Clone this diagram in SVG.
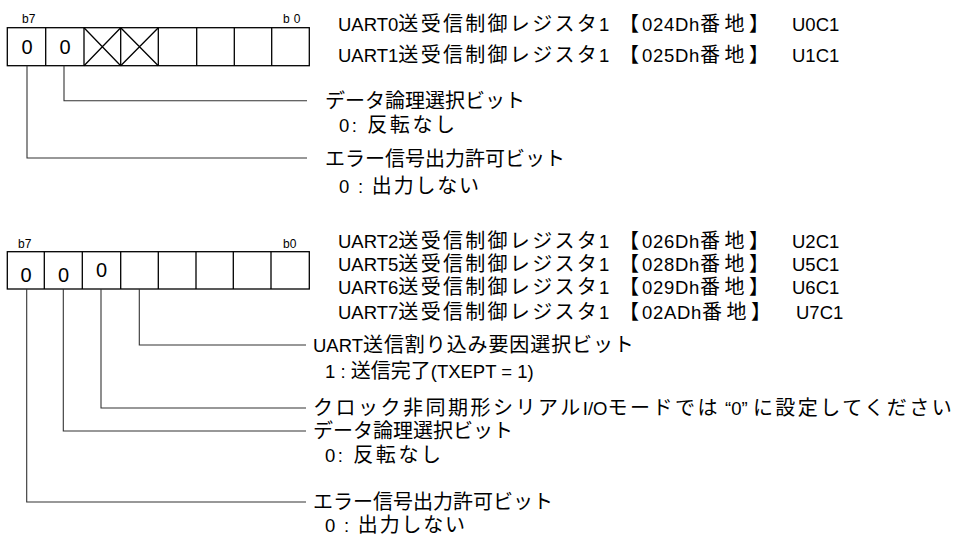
<svg xmlns="http://www.w3.org/2000/svg" width="965" height="537" viewBox="0 0 965 537">
<style>
.t{font-family:"Liberation Sans","Noto Sans CJK JP",sans-serif;font-size:18.5px;fill:#000}
.c{font-size:20px}
.h{letter-spacing:2.3px}
.k1{font-size:20px;letter-spacing:3px}
.k2{letter-spacing:0.7px}
.k3{font-size:20px;letter-spacing:4.5px}
.d{font-family:"Liberation Sans",Arial,sans-serif;font-size:20px;fill:#000;text-anchor:middle}
.b{font-family:"Liberation Sans",Arial,sans-serif;font-size:12px;fill:#000}
.box{fill:#fff;stroke:#000;stroke-width:1.3}
.cell{stroke:#000;stroke-width:1.3;fill:none}
.ld{fill:none;stroke:#333;stroke-width:1.1}
</style>
<rect width="965" height="537" fill="#fff"/>
<g id="reg1">
<text class="b" x="22" y="23">b7</text>
<text class="b" x="283" y="23" letter-spacing="4">b0</text>
<rect class="box" x="7.3" y="27.7" width="302" height="38"/>
<path class="cell" d="M45.7 27.7V65.7M84 27.7V65.7M120.7 27.7V65.7M158.3 27.7V65.7M196.7 27.7V65.7M234.3 27.7V65.7M271.7 27.7V65.7"/>
<path class="cell" d="M84 27.7L120.7 65.7M120.7 27.7L84 65.7M120.7 27.7L158.3 65.7M158.3 27.7L120.7 65.7"/>
<text class="d" x="27" y="54">0</text>
<text class="d" x="65" y="54">0</text>
</g>
<g id="reg1-names">
<text class="t" x="338" y="31">UART0<tspan class="c h">送受信制御レジスタ</tspan>1</text>
<text class="t" x="619" y="31"><tspan class="k1">【</tspan><tspan class="k2">024Dh</tspan><tspan class="k3">番地</tspan><tspan class="c">】</tspan></text>
<text class="t" x="792" y="31">U0C1</text>
<text class="t" x="338" y="61.5">UART1<tspan class="c h">送受信制御レジスタ</tspan>1</text>
<text class="t" x="619" y="61.5"><tspan class="k1">【</tspan><tspan class="k2">025Dh</tspan><tspan class="k3">番地</tspan><tspan class="c">】</tspan></text>
<text class="t" x="792" y="61.5">U1C1</text>
</g>
<g id="reg1-b6">
<text class="t c" x="325" y="108">データ論理選択ビット</text>
<text class="t" x="339" y="132" textLength="116" lengthAdjust="spacing">0: <tspan class="c">反転なし</tspan></text>
</g>
<g id="reg1-b7">
<text class="t c" x="325" y="166">エラー信号出力許可ビット</text>
<text class="t" x="339" y="193" textLength="140" lengthAdjust="spacing">0 : <tspan class="c">出力しない</tspan></text>
</g>
<g id="reg2">
<text class="b" x="18" y="248">b7</text>
<text class="b" x="283" y="248">b0</text>
<rect class="box" x="7.3" y="251.7" width="302" height="37.3"/>
<path class="cell" d="M44.3 251.7V289M82.3 251.7V289M120.7 251.7V289M158.3 251.7V289M196 251.7V289M233.3 251.7V289M271 251.7V289"/>
<text class="d" x="26" y="281.5">0</text>
<text class="d" x="63.5" y="281.5">0</text>
<text class="d" x="101.5" y="277">0</text>
</g>
<g id="reg2-names">
<text class="t" x="338" y="248">UART2<tspan class="c h">送受信制御レジスタ</tspan>1</text>
<text class="t" x="619" y="248"><tspan class="k1">【</tspan><tspan class="k2">026Dh</tspan><tspan class="k3">番地</tspan><tspan class="c">】</tspan></text>
<text class="t" x="792" y="248">U2C1</text>
<text class="t" x="338" y="271">UART5<tspan class="c h">送受信制御レジスタ</tspan>1</text>
<text class="t" x="619" y="271"><tspan class="k1">【</tspan><tspan class="k2">028Dh</tspan><tspan class="k3">番地</tspan><tspan class="c">】</tspan></text>
<text class="t" x="792" y="271">U5C1</text>
<text class="t" x="338" y="294">UART6<tspan class="c h">送受信制御レジスタ</tspan>1</text>
<text class="t" x="619" y="294"><tspan class="k1">【</tspan><tspan class="k2">029Dh</tspan><tspan class="k3">番地</tspan><tspan class="c">】</tspan></text>
<text class="t" x="792" y="294">U6C1</text>
<text class="t" x="338" y="319">UART7<tspan class="c h">送受信制御レジスタ</tspan>1</text>
<text class="t" x="619" y="319"><tspan class="k1">【</tspan><tspan class="k2">02ADh</tspan><tspan class="k3">番地</tspan><tspan class="c">】</tspan></text>
<text class="t" x="796" y="319">U7C1</text>
</g>
<g id="reg2-b4">
<text class="t" x="313" y="352">UART<tspan class="c" letter-spacing="0.9">送信割り込み要因選択ビット</tspan></text>
<text class="t" x="325" y="378">1 : <tspan class="c">送信完了</tspan>(TXEPT = 1)</text>
</g>
<g id="reg2-b5">
<text class="t" x="313" y="415"><tspan class="c" letter-spacing="2.5">クロック非同期形シリアル</tspan>I/O<tspan class="c" letter-spacing="2.5">モードでは</tspan> “0” <tspan class="c" letter-spacing="2.5">に設定してください</tspan></text>
</g>
<g id="reg2-b6">
<text class="t c" x="313" y="438">データ論理選択ビット</text>
<text class="t" x="325" y="462" textLength="116" lengthAdjust="spacing">0: <tspan class="c">反転なし</tspan></text>
</g>
<g id="reg2-b7">
<text class="t c" x="313" y="509">エラー信号出力許可ビット</text>
<text class="t" x="325" y="532" textLength="140" lengthAdjust="spacing">0 : <tspan class="c">出力しない</tspan></text>
</g>
<g id="connectors">
<path class="ld" d="M64 65.7V100.7H307"/>
<path class="ld" d="M27 65.7V158H307"/>
<path class="ld" d="M139.3 289V345H306"/>
<path class="ld" d="M101 289V408H306"/>
<path class="ld" d="M63.3 289V431H306"/>
<path class="ld" d="M26.7 289V502H306"/>
</g>
</svg>
